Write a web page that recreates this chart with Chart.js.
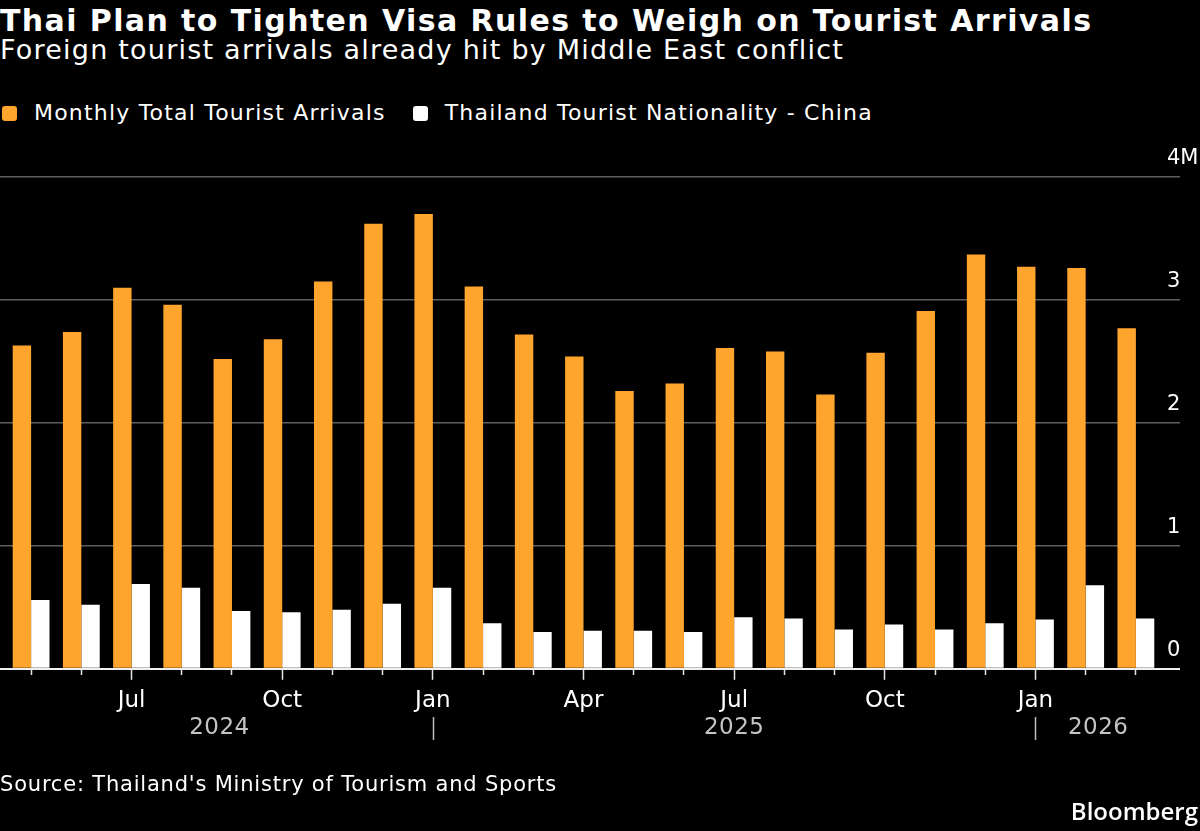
<!DOCTYPE html>
<html>
<head>
<meta charset="utf-8">
<script src="https://cdn.jsdelivr.net/npm/chart.js@4.4.1/dist/chart.umd.min.js"></script>
<style>
  html, body { margin: 0; padding: 0; background: #000; }
  body { width: 1200px; height: 831px; position: relative; overflow: hidden; font-family: "DejaVu Sans", sans-serif; color: #fff; }
  .txt { position: absolute; white-space: nowrap; }
  #title { left: 0; top: 4px; font-size: 30px; line-height: 34px; font-weight: bold; letter-spacing: 1.4px; }
  #subtitle { left: 0; top: 35px; font-size: 27px; line-height: 30px; letter-spacing: 1.22px; }
  #legend { left: 0; top: 101px; font-size: 22px; line-height: 24px; letter-spacing: 1.2px; display: flex; }
  #legend .item { display: flex; align-items: center; }
  #legend .box { width: 15px; height: 15px; border-radius: 3px; margin-right: 17px; }
  #source { left: 0; top: 772px; font-size: 21px; line-height: 24px; letter-spacing: 0.8px; }
  #logo { right: 2px; top: 797px; font-family: "Open Sans", sans-serif; font-weight: 600; font-size: 24px; line-height: 28px; }
  #wrap { position: absolute; left: 0; top: 140px; width: 1200px; height: 691px; }
</style>
</head>
<body>
<div id="title" class="txt">Thai Plan to Tighten Visa Rules to Weigh on Tourist Arrivals</div>
<div id="subtitle" class="txt">Foreign tourist arrivals already hit by Middle East conflict</div>
<div id="legend" class="txt"></div>
<div id="wrap"><canvas id="chart" width="1200" height="691"></canvas></div>
<div id="source" class="txt">Source: Thailand's Ministry of Tourism and Sports</div>
<div id="logo" class="txt">Bloomberg</div>
<script>
const categories = ['2024-05', '2024-06', '2024-07', '2024-08', '2024-09', '2024-10', '2024-11', '2024-12',
    '2025-01', '2025-02', '2025-03', '2025-04', '2025-05', '2025-06', '2025-07', '2025-08', '2025-09', '2025-10', '2025-11', '2025-12',
    '2026-01', '2026-02', '2026-03'];
const monthNames = ['Jan', 'Feb', 'Mar', 'Apr', 'May', 'Jun', 'Jul', 'Aug', 'Sep', 'Oct', 'Nov', 'Dec'];
const labeledMonths = ['Jan', 'Apr', 'Jul', 'Oct'];
// millions of arrivals
const totalArrivals = [2.63, 2.74, 3.10, 2.96, 2.52, 2.68, 3.15, 3.62, 3.70, 3.11, 2.72, 2.54,
    2.26, 2.32, 2.61, 2.58, 2.23, 2.57, 2.91, 3.37, 3.27, 3.26, 2.77];
const chinaArrivals = [0.56, 0.52, 0.69, 0.66, 0.47, 0.46, 0.48, 0.53, 0.66, 0.37, 0.30, 0.31,
    0.31, 0.30, 0.42, 0.41, 0.32, 0.36, 0.32, 0.37, 0.40, 0.68, 0.41];
const yTicks = [0, 1, 2, 3, 4];

const ORANGE = '#ffa52e';
const GRID = '#5e5e5e';
const FONT = 'DejaVu Sans';

const monthOf = (i) => monthNames[parseInt(categories[i].slice(5), 10) - 1];
const yearOf = (i) => categories[i].slice(0, 4);

const gridColor = (ctx) => ctx.tick && ctx.tick.value === 0 ? '#f0f0f0' : GRID;
const gridWidth = (ctx) => ctx.tick && ctx.tick.value === 0 ? 2 : 1.5;

// year row under the month labels
const yearRow = {
    id: 'yearRow',
    afterDraw(chart) {
        const x = chart.scales.x;
        const c = chart.ctx;
        const jans = [];
        categories.forEach((d, i) => { if (d.endsWith('-01')) jans.push(i); });
        c.save();
        c.strokeStyle = '#bdbdbd';
        c.lineWidth = 1.5;
        jans.forEach(i => {
            const px = Math.round(x.getPixelForValue(i)) + 0.5;
            c.beginPath();
            c.moveTo(px, 577);
            c.lineTo(px, 600);
            c.stroke();
        });
        const years = [...new Set(categories.map((d, i) => yearOf(i)))];
        c.fillStyle = '#c4c4c4';
        c.font = '23px "' + FONT + '"';
        c.letterSpacing = '0.5px';
        c.textAlign = 'center';
        c.textBaseline = 'middle';
        years.forEach(y => {
            const first = categories.findIndex(d => d.startsWith(y));
            const nextJan = categories.findIndex(d => d.startsWith(String(+y + 1)));
            const start = first === 0 ? x.left : x.getPixelForValue(first);
            const end = nextJan < 0 ? x.right : x.getPixelForValue(nextJan);
            c.fillText(y, (start + end) / 2, 588);
        });
        c.restore();
    }
};

const chart = new Chart(document.getElementById('chart').getContext('2d'), {
    type: 'bar',
    data: {
        labels: categories,
        datasets: [{
            label: 'Monthly Total Tourist Arrivals',
            data: totalArrivals,
            backgroundColor: ORANGE,
            yAxisID: 'y'
        }, {
            label: 'Thailand Tourist Nationality - China',
            data: chinaArrivals,
            backgroundColor: '#ffffff',
            yAxisID: 'y'
        }]
    },
    options: {
        responsive: false,
        animation: false,
        layout: { padding: { top: 37, bottom: 109.6, left: 0, right: 0 } },
        datasets: { bar: { categoryPercentage: 0.733, barPercentage: 1.0, borderWidth: 0 } },
        plugins: {
            legend: { display: false },
            tooltip: { enabled: false }
        },
        scales: {
            x: {
                offset: true,
                grid: {
                    offset: false,
                    drawOnChartArea: false,
                    tickLength: 11,
                    tickColor: '#e6e6e6',
                    tickWidth: 1.5,
                    tickBorderDash: (ctx) => labeledMonths.includes(monthOf(ctx.index)) ? [] : [5, 30]
                },
                border: { color: '#f0f0f0', width: 2 },
                ticks: {
                    autoSkip: false,
                    maxRotation: 0,
                    minRotation: 0,
                    padding: 7,
                    color: '#ffffff',
                    font: { family: FONT, size: 23 },
                    callback: function (val, i) {
                        const m = monthOf(i);
                        return labeledMonths.includes(m) ? m : '';
                    }
                }
            },
            yl: {
                position: 'left',
                min: 0,
                max: 4,
                ticks: { display: false, stepSize: 1 },
                grid: { drawOnChartArea: false, tickLength: 6, color: gridColor, lineWidth: gridWidth },
                border: { display: false },
                afterFit(scale) { scale.width = 6; }
            },
            y: {
                position: 'right',
                min: 0,
                max: 4,
                afterBuildTicks(scale) { scale.ticks = yTicks.map(v => ({ value: v })); },
                ticks: {
                    stepSize: 1,
                    padding: -13,
                    labelOffset: -18,
                    color: '#ffffff',
                    font: { family: FONT, size: 21 },
                    callback: (v) => v === 4 ? '4M' : String(v)
                },
                grid: { color: gridColor, lineWidth: gridWidth, tickLength: 19 },
                border: { display: false },
                afterFit(scale) { scale.width = 39; }
            }
        }
    },
    plugins: [yearRow]
});

// html legend built from the chart's own legend items
const legendEl = document.getElementById('legend');
chart.options.plugins.legend.labels.generateLabels(chart).forEach((item, i) => {
    const el = document.createElement('div');
    el.className = 'item';
    el.style.marginLeft = i === 0 ? '2px' : '27px';
    const box = document.createElement('span');
    box.className = 'box';
    box.style.background = item.fillStyle;
    const t = document.createElement('span');
    t.textContent = item.text;
    el.appendChild(box);
    el.appendChild(t);
    legendEl.appendChild(el);
});
</script>
</body>
</html>
